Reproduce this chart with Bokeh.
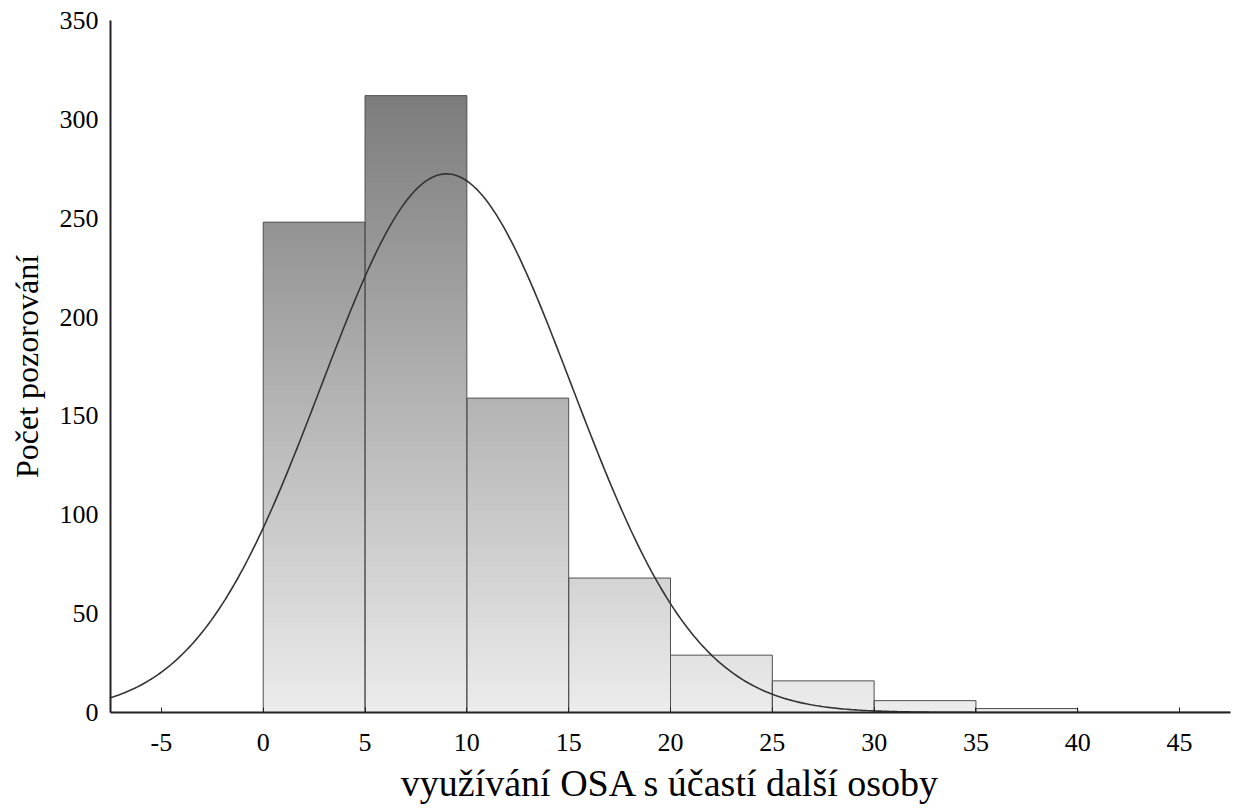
import numpy as np
from bokeh.plotting import figure
from bokeh.models import Range1d, FixedTicker, LinearColorMapper
from bokeh.embed import file_html
from bokeh.resources import INLINE

# ---- data ----
bin_left = [0, 5, 10, 15, 20, 25, 30, 35]
bin_width = 5
counts = [248, 312, 159, 68, 29, 16, 6, 2]
x_ticks = [-5, 0, 5, 10, 15, 20, 25, 30, 35, 40, 45]
x_tick_labels = {-5: "-5"}
y_ticks = [0, 50, 100, 150, 200, 250, 300, 350]
fit_mean = 9.0
fit_sd = 6.15
x_label = "využívání OSA s účastí další osoby"
y_label = "Počet pozorování"

FONT = "Liberation Serif"

p = figure(width=1240, height=809, output_backend="svg", toolbar_location=None,
           x_range=Range1d(-7.5, 47.5), y_range=Range1d(0, 350),
           min_border_left=110, min_border_right=10, min_border_top=20, min_border_bottom=97)
p.xgrid.visible = False
p.ygrid.visible = False
p.outline_line_color = None
p.background_fill_color = "white"

# vertical gray gradient inside each bar (light at 0, dark at max count)
vmax = max(counts)
grays = ["#%02x%02x%02x" % (g, g, g) for g in np.linspace(236, 124, 256).round().astype(int)]
mapper = LinearColorMapper(palette=grays, low=0, high=vmax)
res = 0.25
for left, c in zip(bin_left, counts):
    nrows = max(1, int(np.ceil(c / res)))
    col = (np.arange(nrows) + 0.5) * (c / nrows)
    arr = np.repeat(col[:, None], 2, axis=1)
    p.image(image=[arr], x=left, y=0, dw=bin_width, dh=c, color_mapper=mapper)

# bar outlines
p.quad(left=bin_left, right=[b + bin_width for b in bin_left], bottom=0, top=counts,
       fill_alpha=0, line_color="#505050", line_width=1)

# fitted normal curve
N = sum(counts)
xs = np.linspace(-7.5, 47.5, 500)
ys = N * bin_width / (fit_sd * np.sqrt(2 * np.pi)) * np.exp(-(xs - fit_mean) ** 2 / (2 * fit_sd ** 2))
p.line(xs, ys, line_color="#333333", line_width=1.6)

# axes
xa = p.xaxis[0]
xa.ticker = FixedTicker(ticks=x_ticks)
xa.major_label_overrides = x_tick_labels
xa.minor_tick_line_color = None
xa.major_tick_in = 5
xa.major_tick_out = 0
xa.major_tick_line_color = "#222222"
xa.axis_line_width = 2
xa.axis_line_color = "#222222"
xa.major_label_text_font = FONT
xa.major_label_text_font_size = "26px"
xa.major_label_text_color = "black"
xa.major_label_standoff = 21
xa.axis_label = x_label
xa.axis_label_text_font = FONT
xa.axis_label_text_font_size = "38px"
xa.axis_label_text_font_style = "normal"
xa.axis_label_text_color = "black"
xa.axis_label_standoff = 8

ya = p.yaxis[0]
ya.ticker = FixedTicker(ticks=y_ticks)
ya.minor_tick_line_color = None
ya.major_tick_line_color = None
ya.major_tick_in = 0
ya.major_tick_out = 0
ya.axis_line_width = 2
ya.axis_line_color = "#222222"
ya.major_label_text_font = FONT
ya.major_label_text_font_size = "26px"
ya.major_label_text_color = "black"
ya.major_label_standoff = 12
ya.axis_label = y_label
ya.axis_label_text_font = FONT
ya.axis_label_text_font_size = "32px"
ya.axis_label_text_font_style = "normal"
ya.axis_label_text_color = "black"
ya.axis_label_standoff = 12

open("out.html", "w").write(file_html(p, INLINE))
